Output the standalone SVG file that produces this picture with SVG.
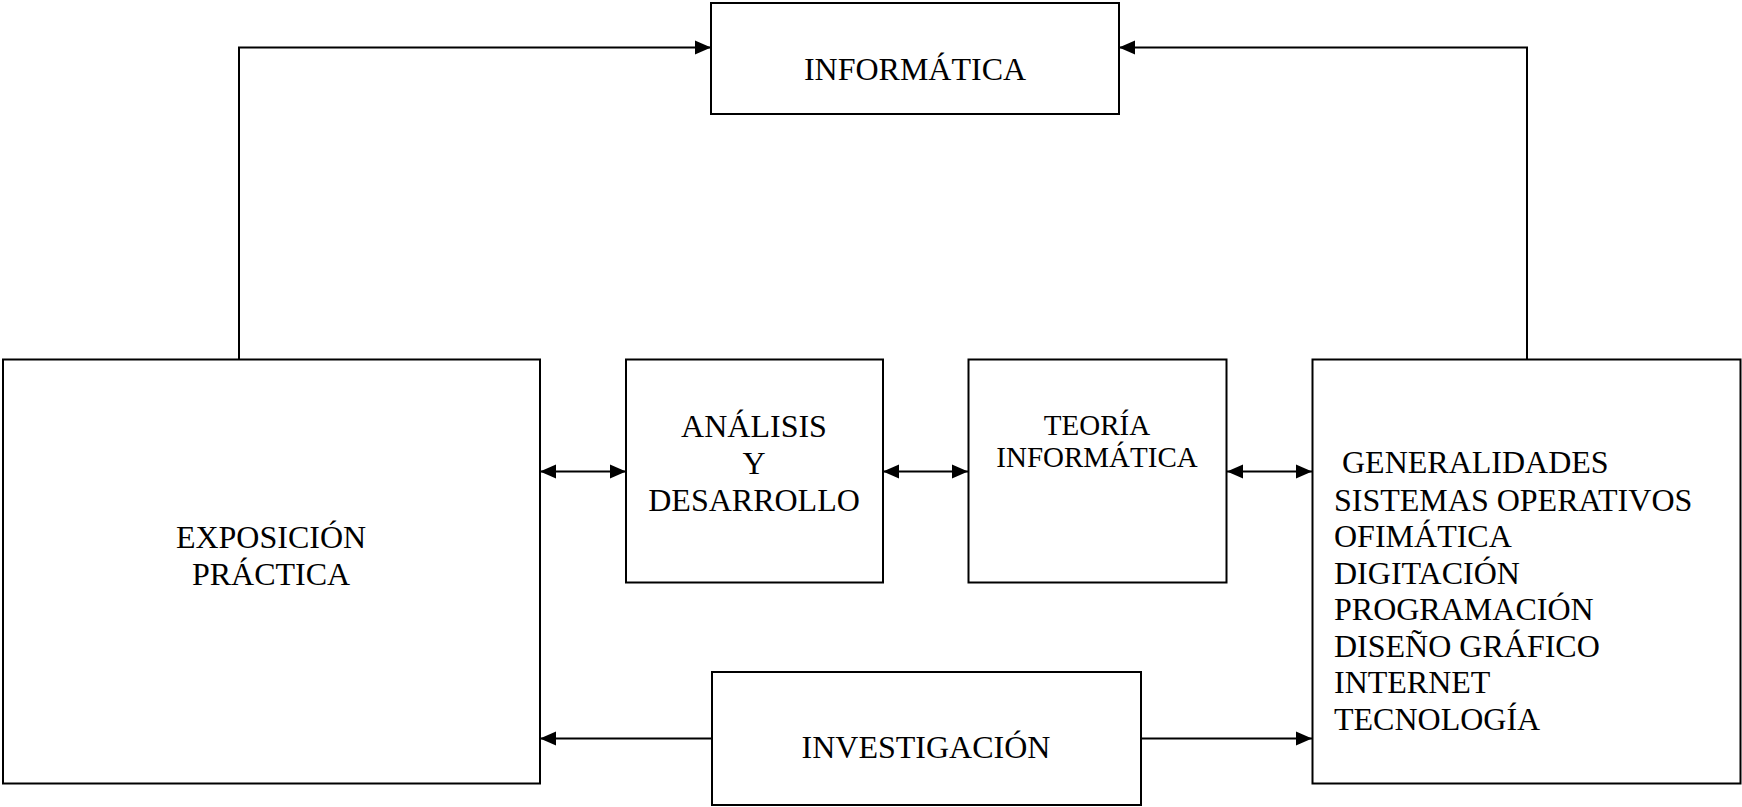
<svg xmlns="http://www.w3.org/2000/svg" width="1742" height="807" viewBox="0 0 1742 807">
<style>
.box{fill:#fff;stroke:#000;stroke-width:2}
.t{font-family:"Liberation Serif","Times New Roman",serif;font-size:32px;fill:#000}
.c{text-anchor:middle}
.s{font-size:29px}
.ln{fill:none;stroke:#000;stroke-width:2}
</style>
<defs>
<marker id="ah" markerUnits="userSpaceOnUse" markerWidth="16" markerHeight="16" viewBox="0 0 16 16" refX="16" refY="8" orient="auto-start-reverse">
<path d="M0,1 L16,8 L0,15 Z" fill="#000"/>
</marker>
</defs>
<rect width="1742" height="807" fill="#fff"/>
<g id="connectors">
<polyline class="ln" points="239,359 239,47.5 711,47.5" marker-end="url(#ah)"/>
<polyline class="ln" points="1527,359 1527,47.5 1119,47.5" marker-end="url(#ah)"/>
<line class="ln" x1="540" y1="471.5" x2="626" y2="471.5" marker-start="url(#ah)" marker-end="url(#ah)"/>
<line class="ln" x1="883" y1="471.5" x2="968" y2="471.5" marker-start="url(#ah)" marker-end="url(#ah)"/>
<line class="ln" x1="1227" y1="471.5" x2="1312" y2="471.5" marker-start="url(#ah)" marker-end="url(#ah)"/>
<line class="ln" x1="712" y1="738.5" x2="540" y2="738.5" marker-end="url(#ah)"/>
<line class="ln" x1="1141" y1="738.5" x2="1312" y2="738.5" marker-end="url(#ah)"/>
</g>
<g id="informatica">
<rect class="box" x="711" y="3" width="408" height="111"/>
<text class="t c" x="915" y="80">INFORMÁTICA</text>
</g>
<g id="exposicion">
<rect class="box" x="3" y="359.5" width="537" height="424"/>
<text class="t c" x="271" y="548">EXPOSICIÓN</text>
<text class="t c" x="271" y="585">PRÁCTICA</text>
</g>
<g id="analisis">
<rect class="box" x="626" y="359.5" width="257" height="223"/>
<text class="t c" x="754" y="437">ANÁLISIS</text>
<text class="t c" x="754" y="474">Y</text>
<text class="t c" x="754" y="511">DESARROLLO</text>
</g>
<g id="teoria">
<rect class="box" x="968.5" y="359.5" width="258" height="223"/>
<text class="t s c" x="1097" y="435">TEORÍA</text>
<text class="t s c" x="1097" y="467">INFORMÁTICA</text>
</g>
<g id="temas">
<rect class="box" x="1312.5" y="359.5" width="428" height="424"/>
<text class="t" x="1342" y="473">GENERALIDADES</text>
<text class="t" x="1334" y="510.5">SISTEMAS OPERATIVOS</text>
<text class="t" x="1334" y="547">OFIMÁTICA</text>
<text class="t" x="1334" y="583.5">DIGITACIÓN</text>
<text class="t" x="1334" y="620">PROGRAMACIÓN</text>
<text class="t" x="1334" y="656.5">DISEÑO GRÁFICO</text>
<text class="t" x="1334" y="693">INTERNET</text>
<text class="t" x="1334" y="730">TECNOLOGÍA</text>
</g>
<g id="investigacion">
<rect class="box" x="712" y="672" width="429" height="133"/>
<text class="t c" x="926" y="758">INVESTIGACIÓN</text>
</g>
</svg>
